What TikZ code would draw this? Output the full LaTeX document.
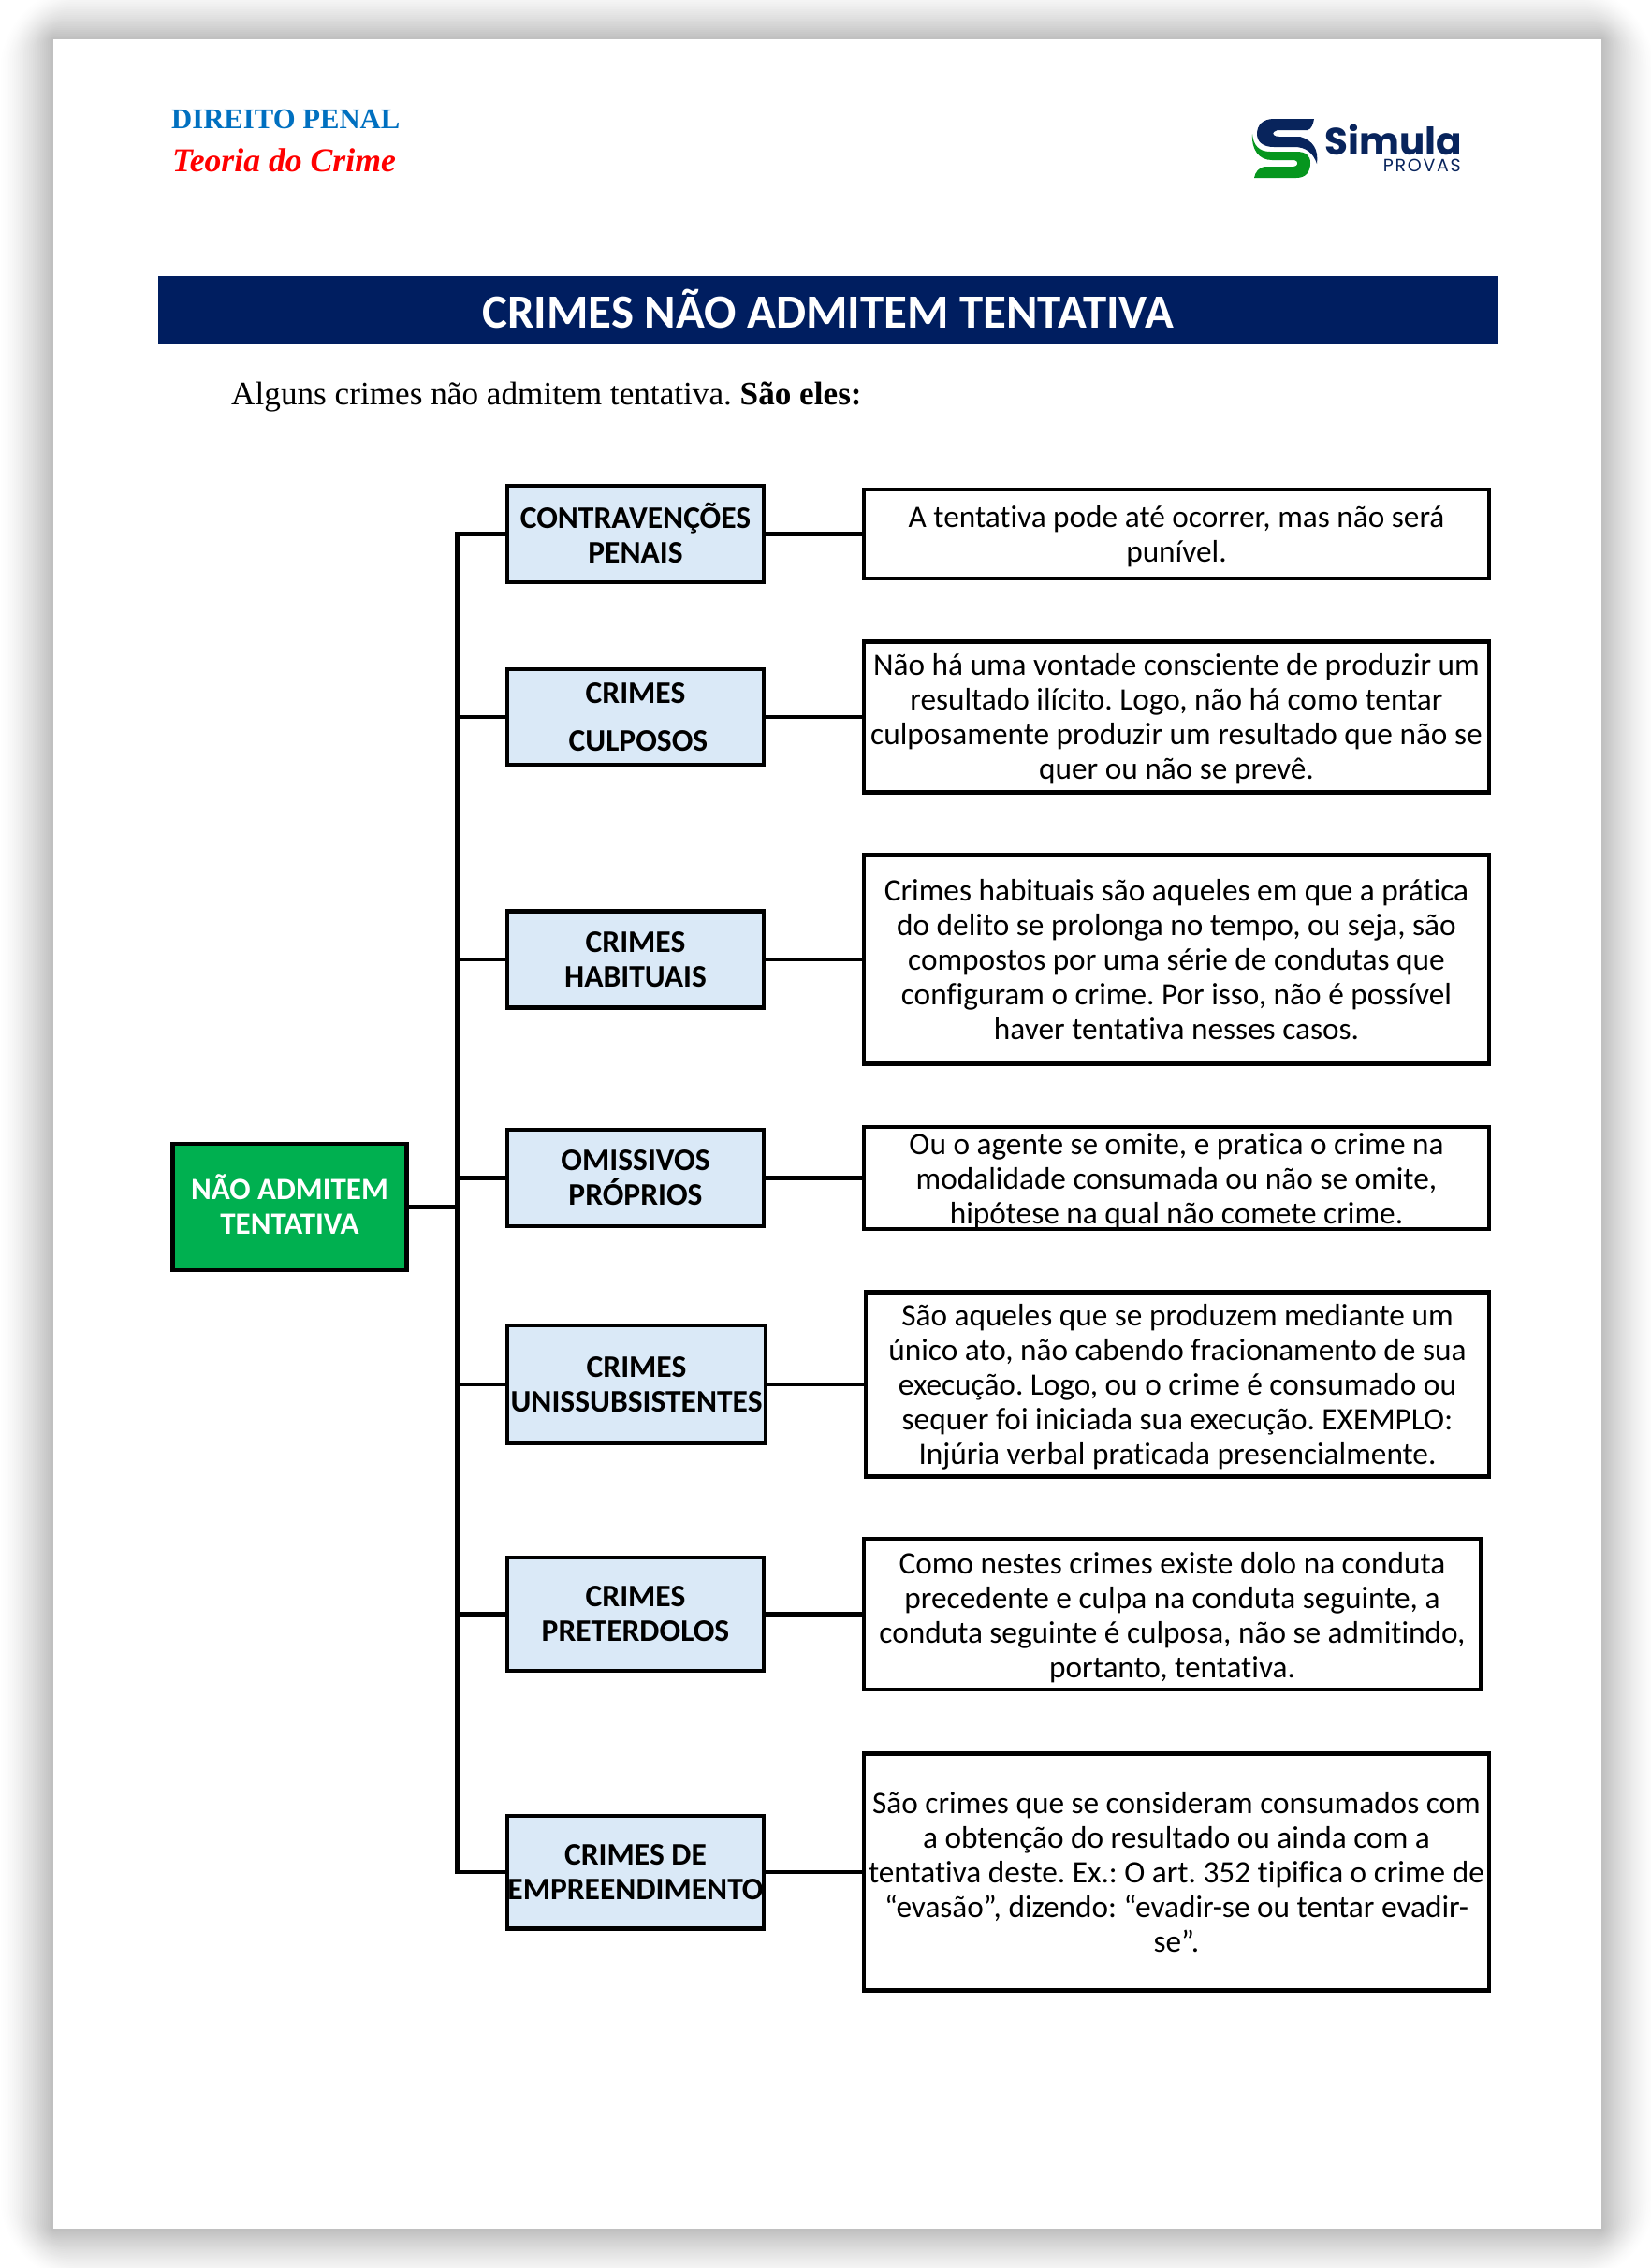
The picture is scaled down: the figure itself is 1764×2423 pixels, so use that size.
\documentclass[tikz,border=0pt]{standalone}
\usepackage{fontspec}
\setmainfont[Ligatures=NoCommon]{Carlito}
\newfontfamily\headfont{Liberation Serif}
\newfontfamily\logofont{Poppins}
\definecolor{sbanner}{RGB}{0,30,96}
\definecolor{sblue}{RGB}{0,112,192}
\definecolor{sred}{RGB}{255,0,0}
\definecolor{sgreen}{RGB}{0,176,80}
\definecolor{slight}{RGB}{218,233,247}
\definecolor{slogoblue}{RGB}{8,36,92}
\definecolor{slogogreen}{RGB}{6,150,30}
\usetikzlibrary{positioning}

\begin{document}
\frenchspacing
\begin{tikzpicture}[x=1pt,y=-1pt,
        crimebox/.style={rectangle, draw=black, line width=4.5pt, fill=slight, inner sep=0pt, align=center,
          font=\fontsize{33.5}{37}\selectfont\bfseries},
        notebox/.style={rectangle, draw=black, line width=4.5pt, fill=white, inner sep=0pt, align=center,
          font=\fontsize{33.3}{37}\selectfont},
        rootbox/.style={rectangle, draw=black, line width=4.5pt, fill=sgreen, text=white, inner sep=0pt, align=center,
          font=\fontsize{33}{37}\selectfont\bfseries},
        link/.style={line width=4.5pt, black}
      ]
        \useasboundingbox (0,0) rectangle (1764,2423);
        \fill[white] (0,0) rectangle (1764,2423);
        \foreach \i in {56,54,...,0} {
          \pgfmathsetmacro{\pct}{26*(1-\i/58)^1.4}
          \fill[black!\pct!white, rounded corners=\i*1.6pt] (57-\i,42-\i) rectangle (1711+\i,2381+\i);
        }
        \fill[white] (57,42) rectangle (1711,2381);

        \node[anchor=base west, inner sep=0pt, text=sblue, font=\fontsize{30.7}{36}\selectfont\headfont\bfseries] (area) at (183,137) {DIREITO PENAL};
        \node[anchor=base west, inner sep=0pt, text=sred, font=\fontsize{35.7}{40}\selectfont\headfont\bfseries\itshape] (topic) at (184,183) {Teoria do Crime};

        \fill[slogoblue] (1404,127) -- (1361,127) .. controls (1349,127) and (1343,134) .. (1343,143) .. controls (1343,152) and (1350,157) .. (1361,157) -- (1383,157) .. controls (1395,157) and (1403,163) .. (1407,175) .. controls (1409,160) and (1403,150) .. (1389,146) -- (1367,146) .. controls (1361,146) and (1359,143) .. (1361,141) .. controls (1363,139) and (1365,139) .. (1369,139) -- (1397,139) .. controls (1401,138) and (1403,133) .. (1404,127) -- cycle;
        \fill[slogogreen] (1338,143) .. controls (1339,155) and (1345,162) .. (1357,162) -- (1385,162) .. controls (1395,162) and (1400,166) .. (1400,174) .. controls (1400,184) and (1395,190) .. (1385,190) -- (1340,190) .. controls (1341,184) and (1345,179) .. (1351,178) -- (1382,178) .. controls (1387,178) and (1388,172) .. (1383,171) -- (1359,171) .. controls (1345,171) and (1337,160) .. (1338,143) -- cycle;
        \node[anchor=base east, inner sep=0pt, text=slogoblue, font=\fontsize{40.5}{46}\selectfont\logofont\bfseries] (brand) at (1562,165) {Simula};
        \node[anchor=base east, inner sep=0pt, text=slogoblue, font=\fontsize{19}{20}\selectfont\logofont\addfontfeature{LetterSpace=9}] (brandsub) at (1561,183) {PROVAS};

        \node[rectangle, fill=sbanner, text=white, minimum width=1431pt, minimum height=72pt, inner sep=0pt,
          font=\fontsize{50.9}{54}\selectfont\bfseries] (banner) at (884.5,331) {CRIMES NÃO ADMITEM TENTATIVA\rule[-3pt]{0pt}{0pt}};
        \node[anchor=base west, inner sep=0pt, font=\fontsize{35.2}{40}\selectfont\headfont] (intro) at (247,432) {Alguns crimes não admitem tentativa. \textbf{São eles:}};

        \node[rootbox, minimum width=250pt, minimum height=135pt] (root) at (309.5,1289.5) {NÃO ADMITEM\\TENTATIVA\rule[-5pt]{0pt}{0pt}};

        \node[crimebox, minimum width=274pt, minimum height=103pt] (contra) at (679,570.5) {CONTRAVENÇÕES\\PENAIS\rule[-3pt]{0pt}{0pt}};
        \node[crimebox, minimum width=274pt, minimum height=102pt] (culp) at (679,766) {CRIMES\\[14pt]\hspace*{6pt}CULPOSOS};
        \node[crimebox, minimum width=274pt, minimum height=103pt] (hab) at (679,1025) {CRIMES\\HABITUAIS};
        \node[crimebox, minimum width=274pt, minimum height=103pt] (omis) at (679,1258.5) {OMISSIVOS\\PRÓPRIOS};
        \node[crimebox, minimum width=276pt, minimum height=126pt] (unis) at (680,1479) {CRIMES\\UNISSUBSISTENTES};
        \node[crimebox, minimum width=274pt, minimum height=121pt] (pret) at (679,1724.5) {CRIMES\\PRETERDOLOS};
        \node[crimebox, minimum width=274pt, minimum height=120.5pt] (empr) at (679,2000) {CRIMES DE\\EMPREENDIMENTO};

        \node[notebox, minimum width=668pt, minimum height=95pt] (contrab) at (1257,570.5) {\rule{0pt}{28pt}A tentativa pode até ocorrer, mas não será\\punível.};
        \node[notebox, minimum width=668pt, minimum height=161pt] (culpb) at (1257,766) {\rule{0pt}{27pt}Não há uma vontade consciente de produzir um\\resultado ilícito. Logo, não há como tentar\\culposamente produzir um resultado que não se\\quer ou não se prevê.};
        \node[notebox, minimum width=668pt, minimum height=223pt] (habb) at (1257,1025) {Crimes habituais são aqueles em que a prática\\do delito se prolonga no tempo, ou seja, são\\compostos por uma série de condutas que\\configuram o crime. Por isso, não é possível\\haver tentativa nesses casos.};
        \node[notebox, minimum width=668pt, minimum height=109pt] (omisb) at (1257,1258.5) {\rule{0pt}{28.5pt}Ou o agente se omite, e pratica o crime na\\modalidade consumada ou não se omite,\\hipótese na qual não comete crime.};
        \node[notebox, minimum width=666pt, minimum height=197pt] (unisb) at (1258,1479) {\rule{0pt}{28.5pt}São aqueles que se produzem mediante um\\único ato, não cabendo fracionamento de sua\\execução. Logo, ou o crime é consumado ou\\sequer foi iniciada sua execução. EXEMPLO:\\Injúria verbal praticada presencialmente.};
        \node[notebox, minimum width=659pt, minimum height=161pt] (pretb) at (1252.5,1724.5) {\rule{0pt}{30.5pt}Como nestes crimes existe dolo na conduta\\precedente e culpa na conduta seguinte, a\\conduta seguinte é culposa, não se admitindo,\\portanto, tentativa.};
        \node[notebox, minimum width=668pt, minimum height=253pt] (emprb) at (1257,2000) {São crimes que se consideram consumados com\\a obtenção do resultado ou ainda com a\\tentativa deste. Ex.: O art. 352 tipifica o crime de\\“evasão”, dizendo: “evadir-se ou tentar evadir-\\se”.};

        \coordinate (trunk) at (488.5,1289.5);
        \draw[link] (root.east) -- (trunk);
        \draw[link] (trunk) |- (contra.west);
        \draw[link] (trunk) |- (culp.west);
        \draw[link] (trunk) |- (hab.west);
        \draw[link] (trunk) |- (omis.west);
        \draw[link] (trunk) |- (unis.west);
        \draw[link] (trunk) |- (pret.west);
        \draw[link] (trunk) |- (empr.west);

        \draw[link] (contra.east) -- (contrab.west);
        \draw[link] (culp.east)   -- (culpb.west);
        \draw[link] (hab.east)    -- (habb.west);
        \draw[link] (omis.east)   -- (omisb.west);
        \draw[link] (unis.east)   -- (unisb.west);
        \draw[link] (pret.east)   -- (pretb.west);
        \draw[link] (empr.east)   -- (emprb.west);
      \end{tikzpicture}
\end{document}
